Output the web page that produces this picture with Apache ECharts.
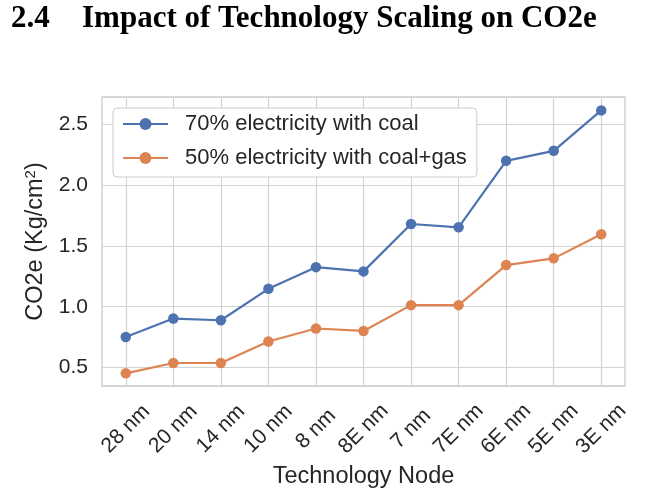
<!DOCTYPE html>
<html>
<head>
<meta charset="utf-8">
<script src="https://cdn.jsdelivr.net/npm/echarts@6/dist/echarts.min.js"></script>
<style>
  html, body { margin: 0; padding: 0; background: #fff; }
  #chart { width: 650px; height: 495px; }
</style>
</head>
<body>
<div id="chart"></div>
<script>
// categories and values
var nodes = ['28 nm', '20 nm', '14 nm', '10 nm', '8 nm', '8E nm', '7 nm', '7E nm', '6E nm', '5E nm', '3E nm'];
var coal70 = [0.752, 0.903, 0.889, 1.147, 1.325, 1.29, 1.679, 1.652, 2.198, 2.28, 2.612];
var coalGas50 = [0.453, 0.538, 0.538, 0.714, 0.821, 0.801, 1.013, 1.013, 1.342, 1.397, 1.595];
var seriesNames = ['70% electricity with coal', '50% electricity with coal+gas'];

var myChart = echarts.init(document.getElementById('chart'));
var sans = 'Liberation Sans, Arial, sans-serif';
var gridColor = '#d3d3d3';

var option = {
    animation: false,
    color: ['#4c72b0', '#dd8452'],
    title: [{
        text: '2.4',
        left: 11,
        top: 3,
        padding: 0,
        textStyle: { fontFamily: 'Liberation Serif', fontWeight: 'bold', fontSize: 31, color: '#000' }
    }, {
        text: 'Impact of Technology Scaling on CO2e',
        left: 82,
        top: 3,
        padding: 0,
        textStyle: { fontFamily: 'Liberation Serif', fontWeight: 'bold', fontSize: 31, color: '#000' }
    }],
    legend: {
        orient: 'vertical',
        left: 113,
        top: 108,
        padding: [5, 10, 8, 9],
        itemGap: 12,
        itemWidth: 45,
        itemHeight: 15,
        backgroundColor: '#fff',
        borderColor: '#cccccc',
        borderWidth: 1,
        borderRadius: 4,
        textStyle: {
            fontFamily: sans,
            fontSize: 22,
            color: '#262626',
            lineHeight: 22,
            padding: [0, 0, 0, 12]
        },
        data: seriesNames
    },
    grid: {
        left: 102,
        right: 25,
        top: 97,
        bottom: 109,
        show: true,
        borderColor: '#cccccc',
        borderWidth: 1.3
    },
    xAxis: {
        type: 'category',
        data: nodes,
        boundaryGap: true,
        name: 'Technology Node',
        nameLocation: 'middle',
        nameGap: 76,
        nameTextStyle: { fontFamily: sans, fontSize: 23.5, color: '#262626' },
        axisLine: { show: false },
        axisTick: { show: false },
        axisLabel: {
            rotate: 45,
            align: 'center',
            verticalAlign: 'middle',
            margin: 43,
            fontFamily: sans,
            fontSize: 21,
            color: '#262626'
        },
        splitLine: { show: true, alignWithLabel: true, lineStyle: { color: gridColor, width: 1.2 } }
    },
    yAxis: {
        type: 'value',
        min: 0.349,
        max: 2.722,
        splitNumber: 5,
        name: 'CO2e (Kg/cm{sup|2})',
        nameLocation: 'middle',
        nameGap: 50,
        nameTextStyle: {
            fontFamily: sans,
            fontSize: 23.5,
            color: '#262626',
            rich: { sup: { fontFamily: sans, fontSize: 15, color: '#262626', verticalAlign: 'top', padding: [0, 0, 11, 0] } }
        },
        axisLine: { show: false },
        axisTick: { show: false },
        axisLabel: {
            showMinLabel: false,
            showMaxLabel: false,
            margin: 14,
            fontFamily: sans,
            fontSize: 21,
            color: '#262626',
            formatter: function (v) { return v.toFixed(1); }
        },
        splitLine: { show: true, lineStyle: { color: gridColor, width: 1.2 } }
    },
    series: [{
        name: seriesNames[0],
        type: 'line',
        data: coal70,
        symbol: 'circle',
        symbolSize: 10.5,
        lineStyle: { width: 2.2 }
    }, {
        name: seriesNames[1],
        type: 'line',
        data: coalGas50,
        symbol: 'circle',
        symbolSize: 10.5,
        lineStyle: { width: 2.2 }
    }]
};
myChart.setOption(option);
window.addEventListener("resize", function () {
    myChart.resize();
});
</script>
</body>
</html>
